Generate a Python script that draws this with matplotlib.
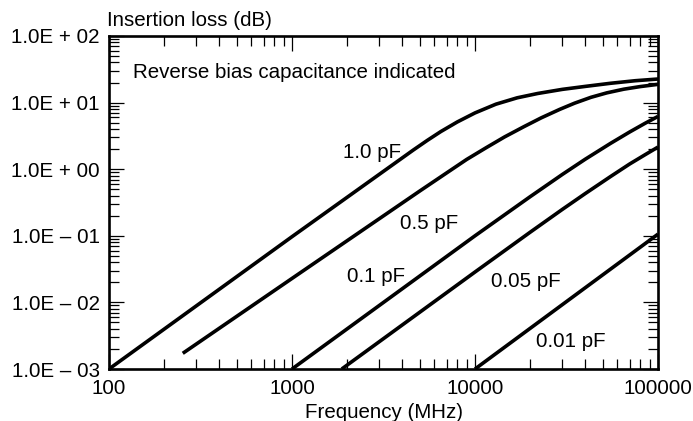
import matplotlib
matplotlib.use("Agg")
import matplotlib.pyplot as plt
from matplotlib.ticker import LogLocator, NullFormatter, FixedLocator, FixedFormatter

# curves: frequency (MHz) -> insertion loss (dB)
F_10 = [100, 1000, 4600, 5500, 6500, 8000, 10000, 13000, 17000, 22000, 30000, 40000,
        55000, 75000, 100000]
IL_10 = [1.0e-3, 0.097, 1.94, 2.72, 3.67, 5.12, 7.0, 9.46, 11.8, 13.7, 15.8, 17.5,
         19.5, 21.3, 22.6]

F_05 = [253, 1000, 5000, 7000, 9000, 11500, 14500, 18500, 23000, 29000, 35000, 43000,
        52500, 65000, 80000, 100000]
IL_05 = [1.72e-3, 0.0229, 0.472, 0.88, 1.4, 2.1, 3.05, 4.35, 5.9, 7.9, 9.8, 12.0,
         14.0, 15.9, 17.4, 18.8]

F_01 = [1000, 10000, 20000, 30000, 40000, 55000, 70000, 85000, 100000]
IL_01 = [1.0e-3, 0.1, 0.386, 0.834, 1.41, 2.44, 3.62, 4.89, 6.2]

F_005 = [1870, 10000, 20000, 30000, 40000, 55000, 70000, 85000, 100000]
IL_005 = [1.0e-3, 0.0286, 0.113, 0.249, 0.43, 0.775, 1.197, 1.65, 2.15]

F_001 = [10000, 100000]
IL_001 = [1.0e-3, 0.106]

CURVES = [(F_10, IL_10), (F_05, IL_05), (F_01, IL_01), (F_005, IL_005), (F_001, IL_001)]

# curve labels (text, x, baseline y in axes fraction)
LABELS = [
    ("1.0 pF", 0.480, 0.634),
    ("0.5 pF", 0.583, 0.4195),
    ("0.1 pF", 0.4863, 0.2613),
    ("0.05 pF", 0.7592, 0.2471),
    ("0.01 pF", 0.8412, 0.0652),
]

X_TICKS = [100, 1000, 10000, 100000]
X_TICKLABELS = ["100", "1000", "10000", "100000"]
Y_TICKS = [1e-3, 1e-2, 1e-1, 1e0, 1e1, 1e2]
Y_TICKLABELS = ["1.0E – 03", "1.0E – 02", "1.0E – 01", "1.0E + 00", "1.0E + 01", "1.0E + 02"]

plt.rcParams["font.family"] = ["Liberation Sans", "DejaVu Sans"]
FS = 14.8

fig = plt.figure(figsize=(6.93, 4.21), dpi=100)
ax = fig.add_axes([0.1573, 0.1235, 0.9495 - 0.1573, 0.9145 - 0.1235])

for f, il in CURVES:
    ax.plot(f, il, color="black", lw=2.6, solid_capstyle="butt", solid_joinstyle="round")

ax.set_xscale("log")
ax.set_yscale("log")
ax.set_xlim(100, 100000)
ax.set_ylim(1e-3, 1e2)

ax.xaxis.set_major_locator(FixedLocator(X_TICKS))
ax.xaxis.set_major_formatter(FixedFormatter(X_TICKLABELS))
ax.yaxis.set_major_locator(FixedLocator(Y_TICKS))
ax.yaxis.set_major_formatter(FixedFormatter(Y_TICKLABELS))
ax.xaxis.set_minor_locator(LogLocator(base=10, subs=range(2, 10), numticks=20))
ax.yaxis.set_minor_locator(LogLocator(base=10, subs=range(2, 10), numticks=20))
ax.xaxis.set_minor_formatter(NullFormatter())
ax.yaxis.set_minor_formatter(NullFormatter())

ax.tick_params(which="both", direction="in", top=True, right=True, width=0.9, color="black")
ax.tick_params(which="major", length=11)
ax.tick_params(which="minor", length=7)
ax.tick_params(axis="x", which="major", labelsize=FS, pad=7.2)
ax.tick_params(axis="y", which="major", labelsize=FS, pad=6.5)

for s in ax.spines.values():
    s.set_linewidth(1.9)

for txt, x, y in LABELS:
    ax.text(x, y, txt, transform=ax.transAxes, ha="center", va="baseline", fontsize=FS)

ax.text(0.0432, 0.873, "Reverse bias capacitance indicated", transform=ax.transAxes,
        ha="left", va="baseline", fontsize=FS)

ax.set_xlabel("Frequency (MHz)", fontsize=FS, va="baseline")
ax.xaxis.set_label_coords(0.5, -0.1462)
fig.text(0.1548, 0.939, "Insertion loss (dB)", ha="left", va="baseline", fontsize=FS)

fig.savefig("out.png", dpi=100)
